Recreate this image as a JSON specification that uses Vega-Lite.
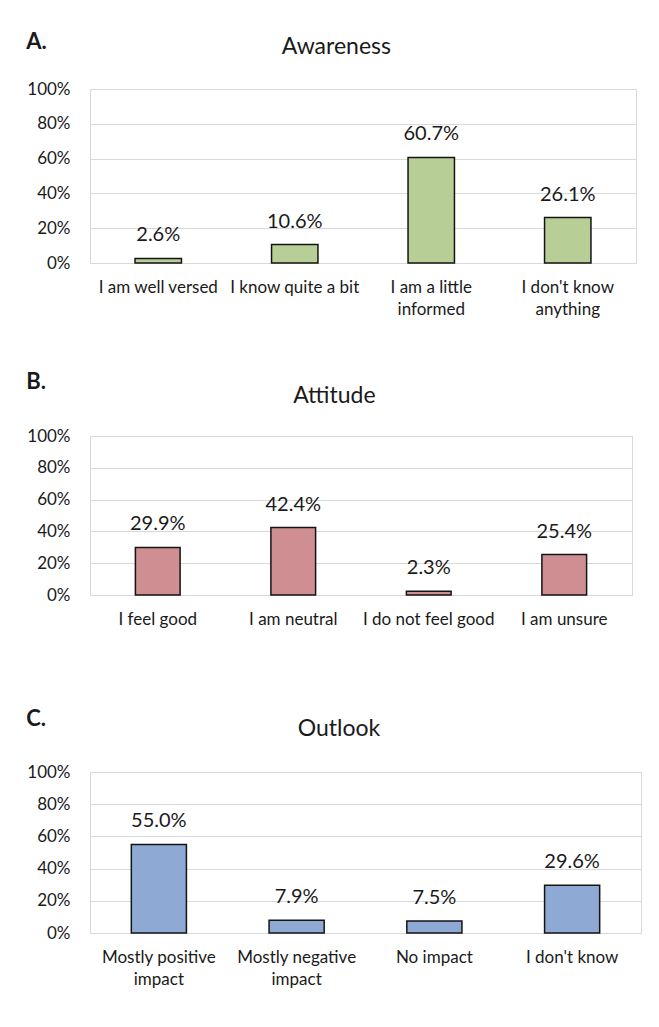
{
  "$schema": "https://vega.github.io/schema/vega-lite/v6.json",
  "background": "white",
  "padding": {"left": 26, "top": 30, "right": 5, "bottom": 5},
  "datasets": {
    "awareness": [
      {"answer": "I am well versed", "share": 0.026},
      {"answer": "I know quite a bit", "share": 0.106},
      {"answer": "I am a little informed", "share": 0.607},
      {"answer": "I don't know anything", "share": 0.261}
    ],
    "attitude": [
      {"answer": "I feel good", "share": 0.299},
      {"answer": "I am neutral", "share": 0.424},
      {"answer": "I do not feel good", "share": 0.023},
      {"answer": "I am unsure", "share": 0.254}
    ],
    "outlook": [
      {"answer": "Mostly positive impact", "share": 0.55},
      {"answer": "Mostly negative impact", "share": 0.079},
      {"answer": "No impact", "share": 0.075},
      {"answer": "I don't know", "share": 0.296}
    ]
  },
  "config": {
    "font": "Lato",
    "view": {"stroke": "#d9d9d9", "strokeWidth": 1},
    "axis": {
      "labelFont": "Lato",
      "labelColor": "#1a1a1a",
      "labelFontSize": 17,
      "ticks": false,
      "domain": false,
      "title": null,
      "gridColor": "#d9d9d9",
      "gridWidth": 1
    },
    "axisX": {"grid": false, "labelAngle": 0, "labelPadding": 16, "labelLineHeight": 22, "labelBaseline": "top"},
    "axisY": {"grid": true, "labelPadding": 20},
    "title": {"font": "Lato", "color": "#1a1a1a"}
  },
  "spacing": 52,
  "vconcat": [
    {
      "title": {"text": "A.", "anchor": "start", "fontSize": 22, "fontWeight": "bold", "offset": -18},
      "vconcat": [
        {
          "title": {"text": "Awareness", "anchor": "middle", "frame": "bounds", "dx": 5, "fontSize": 23, "fontWeight": "normal", "offset": 21},
          "width": 546,
          "height": 174,
          "data": {"name": "awareness"},
          "encoding": {
            "x": {
              "field": "answer", "type": "nominal", "sort": null,
              "scale": {"paddingInner": 0.66, "paddingOuter": 0.33},
              "axis": {"labelExpr": "datum.label == 'I am a little informed' ? ['I am a little', 'informed'] : datum.label == \"I don't know anything\" ? [\"I don't know\", 'anything'] : [datum.label, ' ']"}
            },
            "y": {
              "field": "share", "type": "quantitative",
              "scale": {"domain": [0, 1]},
              "axis": {"values": [0, 0.2, 0.4, 0.6, 0.8, 1], "format": ".0%"}
            }
          },
          "layer": [
            {"mark": {"type": "bar", "fill": "#b7cf96", "stroke": "#141414", "strokeWidth": 1.5}},
            {"mark": {"type": "text", "fontSize": 20, "dy": -23, "baseline": "middle", "color": "#1a1a1a"}, "encoding": {"text": {"field": "share", "format": ".1%"}}}
          ]
        }
      ]
    },
    {
      "spacing": 57,
      "vconcat": [
        {
          "title": {"text": "B.", "anchor": "start", "fontSize": 22, "fontWeight": "bold", "offset": -9},
          "vconcat": [
            {
              "title": {"text": "Attitude", "anchor": "middle", "frame": "bounds", "dx": 5, "fontSize": 23, "fontWeight": "normal", "offset": 19},
              "width": 542,
              "height": 159,
              "data": {"name": "attitude"},
              "encoding": {
                "x": {
                  "field": "answer", "type": "nominal", "sort": null,
                  "scale": {"paddingInner": 0.67, "paddingOuter": 0.335},
                  "axis": {"labelExpr": "[datum.label, ' ']"}
                },
                "y": {
                  "field": "share", "type": "quantitative",
                  "scale": {"domain": [0, 1]},
                  "axis": {"values": [0, 0.2, 0.4, 0.6, 0.8, 1], "format": ".0%"}
                }
              },
              "layer": [
                {"mark": {"type": "bar", "fill": "#cf8f92", "stroke": "#141414", "strokeWidth": 1.5}},
                {"mark": {"type": "text", "fontSize": 20, "dy": -23, "baseline": "middle", "color": "#1a1a1a"}, "encoding": {"text": {"field": "share", "format": ".1%"}}}
              ]
            }
          ]
        },
        {
          "title": {"text": "C.", "anchor": "start", "fontSize": 22, "fontWeight": "bold", "offset": -13},
          "vconcat": [
            {
              "title": {"text": "Outlook", "anchor": "middle", "frame": "bounds", "dx": 5, "fontSize": 23, "fontWeight": "normal", "offset": 22},
              "width": 551,
              "height": 161,
              "data": {"name": "outlook"},
              "encoding": {
                "x": {
                  "field": "answer", "type": "nominal", "sort": null,
                  "scale": {"paddingInner": 0.6, "paddingOuter": 0.3},
                  "axis": {"labelExpr": "datum.label == 'Mostly positive impact' ? ['Mostly positive', 'impact'] : datum.label == 'Mostly negative impact' ? ['Mostly negative', 'impact'] : [datum.label, ' ']"}
                },
                "y": {
                  "field": "share", "type": "quantitative",
                  "scale": {"domain": [0, 1]},
                  "axis": {"values": [0, 0.2, 0.4, 0.6, 0.8, 1], "format": ".0%"}
                }
              },
              "layer": [
                {"mark": {"type": "bar", "fill": "#8ea9d3", "stroke": "#141414", "strokeWidth": 1.5}},
                {"mark": {"type": "text", "fontSize": 20, "dy": -23, "baseline": "middle", "color": "#1a1a1a"}, "encoding": {"text": {"field": "share", "format": ".1%"}}}
              ]
            }
          ]
        }
      ]
    }
  ]
}
